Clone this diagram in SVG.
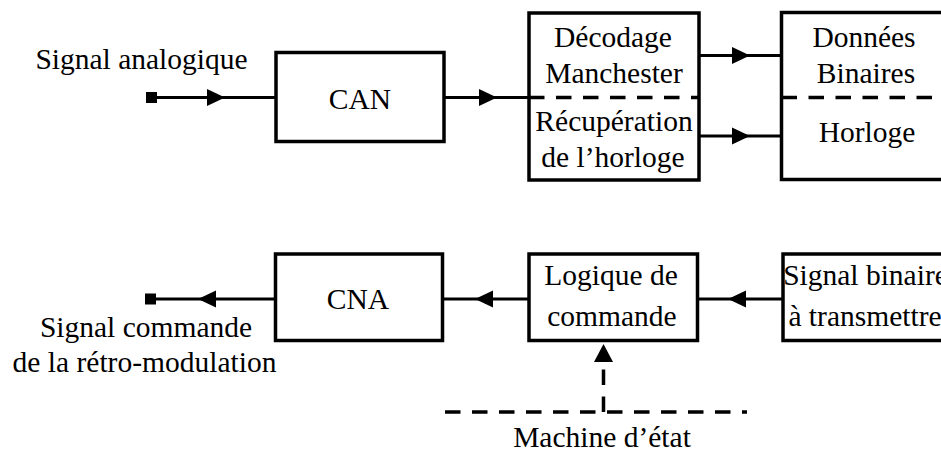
<svg xmlns="http://www.w3.org/2000/svg" width="941" height="452" viewBox="0 0 941 452">
<style>
.box{fill:#fff;stroke:#000;stroke-width:3.5}
.ln{fill:none;stroke:#000;stroke-width:3}
.dash{fill:none;stroke:#000;stroke-width:3.5;stroke-dasharray:15.5 11.5}
.ah{fill:#000;stroke:none}
.term{fill:#000}
text{font-family:"Liberation Serif","Times New Roman",serif;font-size:29.5px;fill:#000;text-anchor:middle}
</style>
<rect width="941" height="452" fill="#fff"/>
<g id="connectors">
<line class="ln" x1="151" y1="97.5" x2="276" y2="97.5"/>
<polygon class="ah" points="225,97.5 207,89 207,106"/>
<line class="ln" x1="444" y1="97.5" x2="545" y2="97.5"/>
<polygon class="ah" points="497,97.5 479,89 479,106"/>
<line class="ln" x1="699" y1="55.5" x2="782" y2="55.5"/>
<polygon class="ah" points="750,55.5 732,47 732,64"/>
<line class="ln" x1="699" y1="136" x2="782" y2="136"/>
<polygon class="ah" points="750,136 732,127.5 732,144.5"/>
<line class="ln" x1="150" y1="299" x2="275" y2="299"/>
<polygon class="ah" points="198,299 216,290.5 216,307.5"/>
<line class="ln" x1="442" y1="299" x2="529" y2="299"/>
<polygon class="ah" points="475,299 493,290.5 493,307.5"/>
<line class="ln" x1="698" y1="299" x2="783" y2="299"/>
<polygon class="ah" points="728,299 746,290.5 746,307.5"/>
<line class="dash" x1="603.5" y1="412" x2="603.5" y2="362"/>
<polygon class="ah" points="603.5,344 594,362 613,362"/>
</g>
<g id="in-terminal"><rect class="term" x="146" y="92" width="11" height="11"/></g>
<g id="out-terminal"><rect class="term" x="145" y="293.5" width="11" height="11"/></g>
<g id="label-analog"><text x="141.5" y="69">Signal analogique</text></g>
<g id="label-retro"><text x="146" y="337">Signal commande</text><text x="144.5" y="372">de la rétro-modulation</text></g>
<g id="can"><rect class="box" x="276" y="52.5" width="168" height="89"/><text x="360" y="108.5">CAN</text></g>
<g id="decodage">
<rect class="box" x="529" y="13" width="170" height="167"/>
<line class="dash" x1="529" y1="97.5" x2="699" y2="97.5"/>
<text x="613" y="47">Décodage</text>
<text x="614" y="83">Manchester</text>
<text x="614" y="131">Récupération</text>
<text x="613" y="167">de l’horloge</text>
</g>
<g id="donnees">
<rect class="box" x="781.5" y="12.5" width="175" height="167"/>
<line class="dash" x1="781.5" y1="97.5" x2="950" y2="97.5"/>
<text x="864" y="47">Données</text>
<text x="866" y="83">Binaires</text>
<text x="867" y="141.5">Horloge</text>
</g>
<g id="cna"><rect class="box" x="275.5" y="254" width="167" height="86.5"/><text x="358" y="308.5">CNA</text></g>
<g id="logique">
<rect class="box" x="529" y="254" width="168.5" height="86.5"/>
<text x="611" y="285">Logique de</text>
<text x="612" y="326">commande</text>
</g>
<g id="signal-binaire">
<rect class="box" x="783" y="254" width="175" height="86.5"/>
<text x="865.5" y="285">Signal binaire</text>
<text x="865" y="326">à transmettre</text>
</g>
<g id="machine">
<line class="dash" x1="445" y1="412" x2="747" y2="412"/>
<text x="602" y="447">Machine d’état</text>
</g>
</svg>
